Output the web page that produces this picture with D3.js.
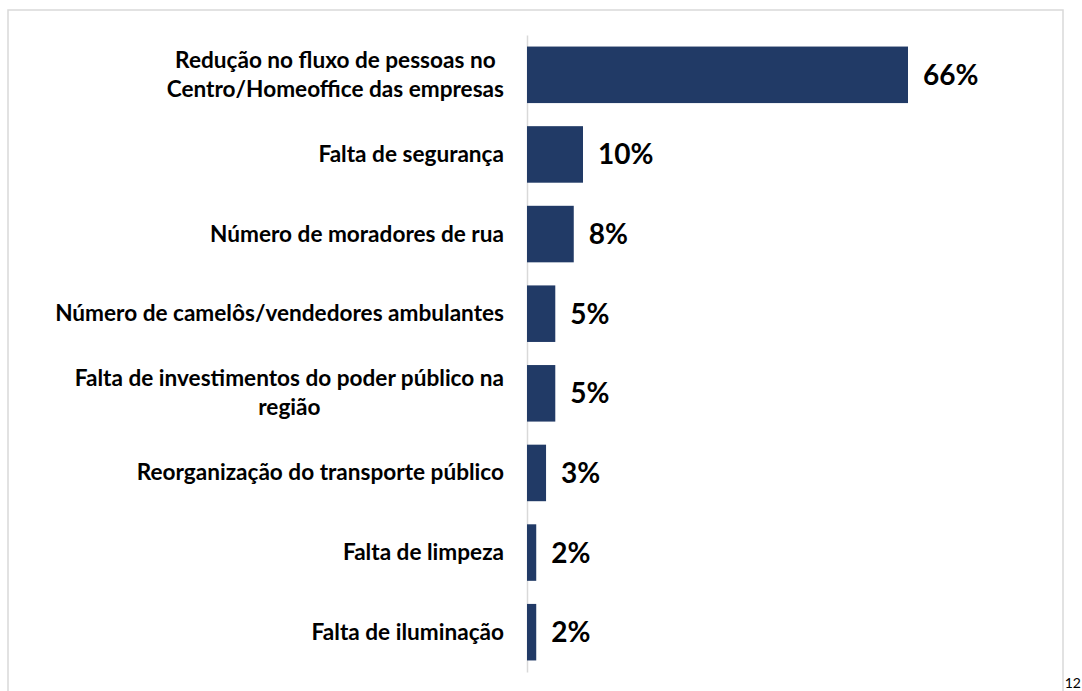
<!DOCTYPE html>
<html>
<head>
<meta charset="utf-8">
<script src="https://cdn.jsdelivr.net/npm/d3@7"></script>
<style>
  body { margin: 0; background: #fff; }
  text { font-family: Lato, "Open Sans", sans-serif; }
</style>
</head>
<body>
<div id="chart"></div>
<script>
// categories, top to bottom ("\n" marks the wrap used in the slide)
var categories = [
  "Redução no fluxo de pessoas no\nCentro/Homeoffice das empresas",
  "Falta de segurança",
  "Número de moradores de rua",
  "Número de camelôs/vendedores ambulantes",
  "Falta de investimentos do poder público na\nregião",
  "Reorganização do transporte público",
  "Falta de limpeza",
  "Falta de iluminação"
];
// share of answers, % (bar lengths)
var values = [66, 9.7, 8.1, 4.9, 4.9, 3.3, 1.6, 1.6];
var pageNumber = "12";

var width = 1082, height = 691;
var barColor = "#213a66";
var lineColor = "#d9d9d9";

var svg = d3.select("#chart")
    .append("svg")
    .attr("width", width)
    .attr("height", height)

// slide frame
svg.append("rect")
    .attr("x", 8)
    .attr("y", 10)
    .attr("width", 1055)
    .attr("height", 720)
    .attr("fill", "none")
    .attr("stroke", lineColor)
    .attr("stroke-width", 1.5)

var y = d3.scaleBand()
    .domain(categories)
    .range([35, 672])
    .paddingInner(0.29)
    .paddingOuter(0.145)

var x = d3.scaleLinear()
    .domain([0, 66])
    .range([527, 908])

// category axis: only the vertical line
var axis = svg.append("g")
    .attr("transform", "translate(" + x(0) + ",0)")
    .call(d3.axisLeft(y).tickSize(0).tickSizeOuter(0).tickFormat(""))
axis.select(".domain").attr("stroke", lineColor).attr("stroke-width", 1.5)

svg.append("g").selectAll("rect")
    .data(values)
    .enter().append("rect")
      .attr("x", x(0))
      .attr("y", (d, i) => y(categories[i]))
      .attr("width", d => x(d) - x(0))
      .attr("height", y.bandwidth())
      .attr("fill", barColor)

var fmt = d => d3.format(".0f")(d) + "%";
svg.append("g").selectAll("text")
    .data(values)
    .enter().append("text")
      .attr("x", d => x(d) + 15)
      .attr("y", (d, i) => y(categories[i]) + y.bandwidth() / 2 + 10)
      .attr("font-size", 28)
      .attr("font-weight", "bold")
      .attr("fill", "#000")
      .text(fmt)

// wrapped category labels: block right-aligned to the axis, lines centred in it
var labelRight = 504, lineH = 29, labelSize = 22.6;
var labels = svg.append("g").selectAll("g")
    .data(categories)
    .enter().append("g")

labels.each(function(c) {
  var g = d3.select(this);
  var lines = c.split("\n");
  var mid = y(c) + y.bandwidth() / 2;
  var t = g.selectAll("text")
      .data(lines)
      .enter().append("text")
        .attr("font-size", labelSize)
        .attr("font-weight", "bold")
        .attr("fill", "#000")
        .attr("y", (d, i) => mid + 7.5 + (i - (lines.length - 1) / 2) * lineH)
        .text(d => d)
  var maxW = d3.max(t.nodes(), n => n.getComputedTextLength());
  t.attr("text-anchor", "middle").attr("x", labelRight - maxW / 2);
});

svg.append("text")
    .attr("x", 1081)
    .attr("y", 688)
    .attr("text-anchor", "end")
    .attr("font-size", 14)
    .attr("fill", "#000")
    .text(pageNumber)
</script>
</body>
</html>
